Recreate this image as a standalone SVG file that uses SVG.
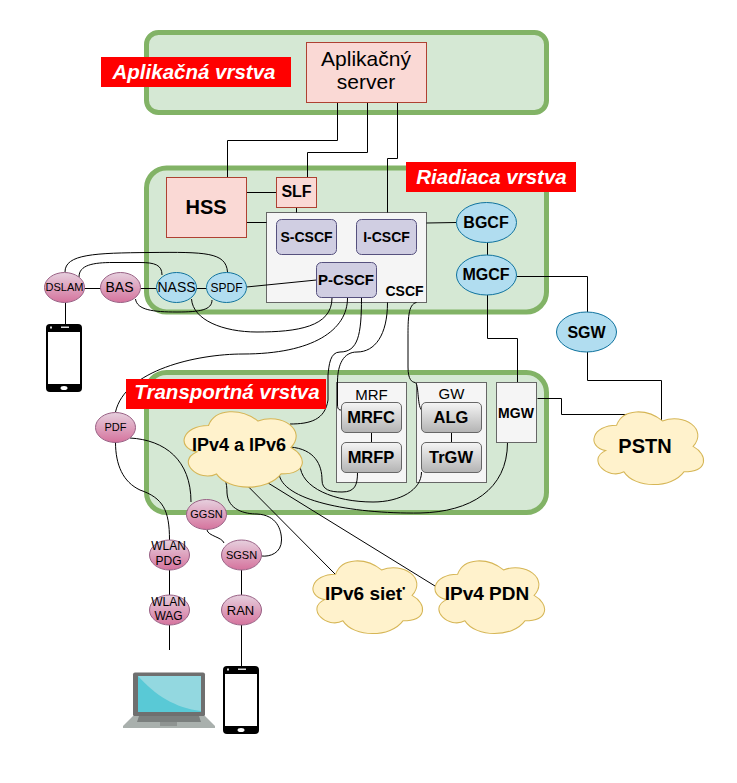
<svg xmlns="http://www.w3.org/2000/svg" xmlns:xlink="http://www.w3.org/1999/xlink" width="737" height="783" viewBox="0 0 737 783">
<style>
text{font-family:"Liberation Sans",Arial,sans-serif;text-anchor:middle;fill:#000}
.layer{fill:#d5e8d4;stroke:#82b366;stroke-width:5}
.band{fill:#f00}
.bandt{fill:#fff;font-weight:bold;font-style:italic;font-size:20.500px}
.red{fill:#fad9d5;stroke:#ae4132}
.gray{fill:#f5f5f5;stroke:#666}
.pur{fill:#d0cee2;stroke:#56517e}
.blue{fill:#b1ddf0;stroke:#10739e}
.pink{fill:url(#pk);stroke:#996185}
.steel{fill:url(#st);stroke:#666}
.cloud{fill:#fff2cc;stroke:#d6b656;vector-effect:non-scaling-stroke}
.c{fill:none;stroke:#000;stroke-width:1}
.b{font-weight:bold}
.s21{font-size:21px}.s20{font-size:20px}.s19{font-size:19px}.s18{font-size:18px}.s17{font-size:16.500px}.s16{font-size:16px}.s15{font-size:15px}.s14{font-size:14px}.s13{font-size:13px}.s12{font-size:12px}.s11{font-size:11px}
</style>
<defs>
<linearGradient id="pk" x1="0" y1="0" x2="0" y2="1"><stop offset="0" stop-color="#e6d0de"/><stop offset="1" stop-color="#d5739d"/></linearGradient>
<linearGradient id="st" x1="0" y1="0" x2="0" y2="1"><stop offset="0" stop-color="#f5f5f5"/><stop offset="1" stop-color="#b3b3b3"/></linearGradient>
<path id="cl" d="M30 20C6 20 0 40 19.200 44C0 52.800 21.600 72 37.200 64C48 80 84 80 96 64C120 64 120 48 105 40C120 24 96 8 75 16C60 4 36 4 30 20Z"/>
<g id="phone">
<rect x="0" y="0" width="36" height="68" rx="4" fill="#000"/>
<rect x="2" y="8" width="32" height="52" fill="#fff"/>
<rect x="15" y="2.500" width="8" height="1.500" fill="#ddd"/>
<rect x="4" y="2.500" width="2" height="2" fill="#ddd"/>
<ellipse cx="18" cy="64" rx="3.500" ry="2" fill="#fff"/>
</g>
</defs>

<g id="layers">
<rect class="layer" x="146.500" y="32.500" width="400" height="80" rx="12"/>
<rect class="layer" x="146.500" y="168" width="400" height="144" rx="20"/>
<rect class="layer" x="146.500" y="372.500" width="400" height="140" rx="20"/>
</g>

<g id="cscf"><rect class="gray" x="266.500" y="212.500" width="160" height="90"/><text class="s14 b" x="404.500" y="296">CSCF</text></g>
<g id="mrf"><rect class="gray" x="336.500" y="382.500" width="70" height="100"/><text class="s15" x="371.500" y="400">MRF</text></g>
<g id="gw"><rect class="gray" x="416.500" y="382.500" width="70" height="100"/><text class="s15" x="451.500" y="398.500">GW</text></g>

<g id="connectors">
<path class="c" d="M337.500 102.500V140.500H227.500V177.500"/>
<path class="c" d="M367.500 102.500V152.500H307.500V177.500"/>
<path class="c" d="M397.500 102.500V158.500H387.500V212.500"/>
<path class="c" d="M246.500 192.500H276.500"/>
<path class="c" d="M246.500 222.500H266.500"/>
<path class="c" d="M296.500 207.500V212.500"/>
<path class="c" d="M426.500 223L456.500 222.500"/>
<path class="c" d="M487.500 242V255"/>
<path class="c" d="M517 276.500H587.500V312"/>
<path class="c" d="M587.500 352V380.500H661.500V422"/>
<path class="c" d="M487.500 295V338.500H517.500V382.500"/>
<path class="c" d="M537.500 398.500H561.500V414.500H632"/>
<path class="c" d="M84.500 288.500H100.500"/>
<path class="c" d="M140.500 288.500H156.500"/>
<path class="c" d="M196.500 288.500H206.500"/>
<path class="c" d="M65.500 302.500V325"/>
<path class="c" d="M246.500 287L316.500 280"/>
<path class="c" d="M65 272C65 254 95 253 150 252.500C205 252 226 252 227.500 272"/>
<path class="c" d="M79 277C79 265 93 262.500 113 262.500H140C155 262.500 162 265 162 275"/>
<path class="c" d="M135.500 299C137 310 153 312 177 312C200 312 212 310 212 300"/>
<path class="c" d="M191.500 299C193 320 223 332 257 332C297 332 332 327 332 298"/>
<path class="c" d="M347.500 298C347.500 330 313 354 243 354C197 354 125 370 115.500 412"/>
<path class="c" d="M361.500 298C361.500 335 358 352 340 352C330 352 329 365 328 375V400C325 420 310 424 290 424"/>
<path class="c" d="M387.500 302.500C387.500 335 375 352 357 352C343 352 338 365 337.500 380V405C337.500 410 340 410 341.500 410"/>
<path class="c" d="M416.500 302.500C408 304 408 320 408 337V367C408 380 412 382 415 382.500C419 383 417 405 421.500 410"/>
<path class="c" d="M290 447C315 449 322 465 322 480C322 490 330 492 342 492C355 492 357.500 485 357.500 472.500"/>
<path class="c" d="M300 464C300 488 335 502 373 502C400 502 421.500 490 421.500 472"/>
<path class="c" d="M279 473C281 500 350 514 420 513C470 512 507.500 490 507.500 442.500"/>
<path class="c" d="M216.500 472.500C225 473 227 483 227 493C228 510 245 514 257 514C277 515 281.500 530 281.500 540C281.500 553 270 557 261.500 556"/>
<path class="c" d="M246.700 485L335 574"/>
<path class="c" d="M266 481.700L435 586"/>
<path class="c" d="M130 438C165 440 191 460 191 502"/>
<path class="c" d="M115.500 442C115.500 465 123 482 140 490C163 498 169.500 510 169.500 540"/>
<path class="c" d="M207 530C208 536 222 537 224 543"/>
<path class="c" d="M241.500 570V595"/>
<path class="c" d="M169.500 570V595"/>
<path class="c" d="M169.500 625V650"/>
<path class="c" d="M241.500 625V667"/>
<path class="c" d="M371.500 432.500V442.500"/>
<path class="c" d="M451.500 432.500V442.500"/>
</g>

<g id="label-app"><rect class="band" x="101" y="57" width="190" height="30"/><text class="bandt" x="194" y="79">Aplikačná vrstva</text></g>
<g id="label-ctrl"><rect class="band" x="406" y="162" width="170" height="30"/><text class="bandt" x="491.500" y="184">Riadiaca vrstva</text></g>
<g id="label-trans"><rect class="band" x="126" y="379" width="200" height="30"/><text class="bandt" x="227" y="399">Transportná vrstva</text></g>

<g id="as"><rect class="red" x="306.500" y="42.500" width="120" height="60"/><text class="s21" x="366" y="66">Aplikačný</text><text class="s21" x="366" y="88.500">server</text></g>
<g id="hss"><rect class="red" x="166.500" y="177.500" width="80" height="60"/><text class="s20 b" x="206" y="213.500">HSS</text></g>
<g id="slf"><rect class="red" x="276.500" y="177.500" width="40" height="30"/><text class="s16 b" x="296.500" y="197">SLF</text></g>
<g id="s-cscf"><rect class="pur" x="276.500" y="219.500" width="60" height="35" rx="5"/><text class="s14 b" x="306.500" y="242">S-CSCF</text></g>
<g id="i-cscf"><rect class="pur" x="356.500" y="219.500" width="60" height="35" rx="5"/><text class="s14 b" x="386.500" y="242">I-CSCF</text></g>
<g id="p-cscf"><rect class="pur" x="316.500" y="262.500" width="60" height="35" rx="5"/><text class="s15 b" x="346" y="285">P-CSCF</text></g>
<g id="bgcf"><ellipse class="blue" cx="486.500" cy="222.500" rx="30" ry="20"/><text class="s16 b" x="486" y="227.500">BGCF</text></g>
<g id="mgcf"><ellipse class="blue" cx="486.500" cy="275" rx="30" ry="20"/><text class="s16 b" x="486" y="280">MGCF</text></g>
<g id="sgw"><ellipse class="blue" cx="586.500" cy="332" rx="30" ry="20"/><text class="s16 b" x="586.500" y="337.500">SGW</text></g>
<g id="dslam"><ellipse class="pink" cx="64.500" cy="287.500" rx="20" ry="15"/><text class="s11" x="64.500" y="291" textLength="38">DSLAM</text></g>
<g id="bas"><ellipse class="pink" cx="120.500" cy="287.500" rx="20" ry="15"/><text class="s14" x="119.500" y="292">BAS</text></g>
<g id="nass"><ellipse class="blue" cx="176.500" cy="287.500" rx="20" ry="15"/><text class="s14" x="176.500" y="292">NASS</text></g>
<g id="spdf"><ellipse class="blue" cx="226.500" cy="287.500" rx="20" ry="15"/><text class="s12" x="226.500" y="292">SPDF</text></g>
<g id="pdf"><ellipse class="pink" cx="115.500" cy="427.500" rx="20" ry="15"/><text class="s11" x="115.500" y="431">PDF</text></g>
<g id="ggsn"><ellipse class="pink" cx="206.500" cy="514.500" rx="20" ry="15"/><text class="s11" x="206.500" y="518">GGSN</text></g>
<g id="sgsn"><ellipse class="pink" cx="241.500" cy="555" rx="20" ry="15"/><text class="s11" x="241.500" y="558.500">SGSN</text></g>
<g id="wlan-pdg"><ellipse class="pink" cx="169.500" cy="555" rx="20" ry="15"/><text class="s12" x="168.500" y="550">WLAN</text><text class="s12" x="168.500" y="565">PDG</text></g>
<g id="wlan-wag"><ellipse class="pink" cx="169.500" cy="610" rx="20" ry="15"/><text class="s12" x="168.500" y="605.500">WLAN</text><text class="s12" x="168.500" y="620">WAG</text></g>
<g id="ran"><ellipse class="pink" cx="241.500" cy="610" rx="20" ry="15"/><text class="s13" x="240.500" y="614.500">RAN</text></g>
<g id="mrfc"><rect class="steel" x="341.500" y="402.500" width="60" height="30" rx="4.500"/><text class="s17 b" x="371" y="422.500">MRFC</text></g>
<g id="mrfp"><rect class="steel" x="341.500" y="442.500" width="60" height="30" rx="4.500"/><text class="s17 b" x="371" y="462.500">MRFP</text></g>
<g id="alg"><rect class="steel" x="421.500" y="402.500" width="60" height="30" rx="4.500"/><text class="s17 b" x="451" y="422.500">ALG</text></g>
<g id="trgw"><rect class="steel" x="421.500" y="442.500" width="60" height="30" rx="4.500"/><text class="s17 b" x="451" y="462.500">TrGW</text></g>
<g id="mgw"><rect class="gray" x="496.500" y="382.500" width="40" height="60"/><text class="s14 b" x="516" y="418">MGW</text></g>
<g id="ipv4v6"><use xlink:href="#cl" href="#cl" class="cloud" transform="translate(175.500 403.500) scale(1.1 1.1)"/><text class="s18 b" x="239" y="451">IPv4 a IPv6</text></g>
<g id="pstn"><use xlink:href="#cl" href="#cl" class="cloud" transform="translate(586 404) scale(1.02 1.06)"/><text class="s20 b" x="645" y="453">PSTN</text></g>
<g id="ipv6"><use xlink:href="#cl" href="#cl" class="cloud" transform="translate(305 553) scale(1.02 1.06)"/><text class="s19 b" x="365" y="600">IPv6 sieť</text></g>
<g id="ipv4pdn"><use xlink:href="#cl" href="#cl" class="cloud" transform="translate(427 553) scale(1.02 1.06)"/><text class="s19 b" x="487" y="600">IPv4 PDN</text></g>
<g id="phone1"><use xlink:href="#phone" href="#phone" x="46" y="324"/></g>
<g id="phone2"><use xlink:href="#phone" href="#phone" x="223" y="666"/></g>
<g id="laptop">
<rect x="133" y="672.500" width="72" height="44" rx="2" fill="#6f6f6f"/>
<rect x="138" y="676" width="63" height="36" fill="#59c9d6"/>
<path d="M138 676H201V711C175 708 155 695 138 676Z" fill="#93d8e0"/>
<path d="M133 716H205L215 726V728H123V726Z" fill="#a9b0ad"/>
<path d="M139 716H199L201 722H137Z" fill="#7b7f7e"/>
<rect x="160" y="722" width="17" height="4" fill="#8f9492"/>
</g>
</svg>
